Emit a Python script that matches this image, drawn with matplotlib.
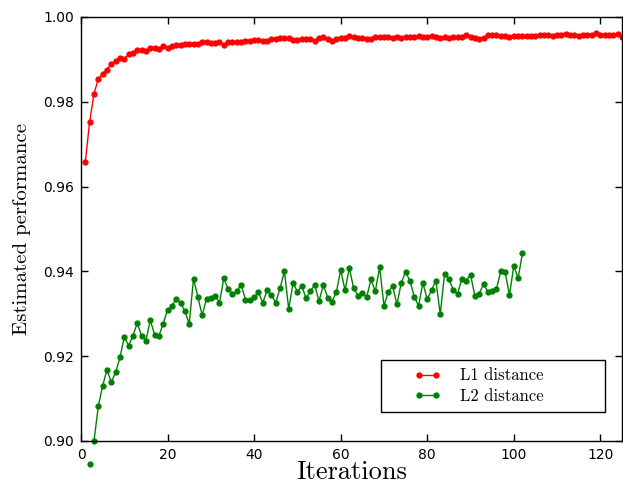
import numpy as np
import matplotlib.pyplot as plt
from matplotlib.legend_handler import HandlerLine2D

# L1 distance, iterations 1..125
l1_iter = np.arange(1, 126)
l1_perf = [
    0.9659, 0.9753, 0.9819, 0.9854, 0.9866, 0.9876, 0.9890, 0.9896, 0.9903, 0.9901,
    0.9912, 0.9916, 0.9921, 0.9922, 0.9920, 0.9926, 0.9928, 0.9925, 0.9931, 0.9928,
    0.9931, 0.9933, 0.9935, 0.9936, 0.9936, 0.9936, 0.9937, 0.9941, 0.9942, 0.9939,
    0.9939, 0.9940, 0.9935, 0.9941, 0.9941, 0.9941, 0.9941, 0.9944, 0.9944, 0.9946,
    0.9946, 0.9943, 0.9944, 0.9948, 0.9949, 0.9950, 0.9951, 0.9950, 0.9946, 0.9946,
    0.9949, 0.9949, 0.9948, 0.9943, 0.9951, 0.9952, 0.9947, 0.9943, 0.9948, 0.9950,
    0.9950, 0.9956, 0.9953, 0.9950, 0.9951, 0.9949, 0.9948, 0.9954, 0.9953, 0.9952,
    0.9952, 0.9950, 0.9953, 0.9950, 0.9954, 0.9953, 0.9952, 0.9956, 0.9952, 0.9954,
    0.9956, 0.9952, 0.9951, 0.9952, 0.9950, 0.9952, 0.9954, 0.9953, 0.9957, 0.9954,
    0.9951, 0.9948, 0.9951, 0.9957, 0.9957, 0.9957, 0.9956, 0.9955, 0.9953, 0.9956,
    0.9956, 0.9955, 0.9956, 0.9955, 0.9955, 0.9957, 0.9958, 0.9957, 0.9955, 0.9958,
    0.9957, 0.9960, 0.9957, 0.9957, 0.9956, 0.9957, 0.9957, 0.9957, 0.9962, 0.9958,
    0.9957, 0.9958, 0.9958, 0.9961, 0.9954,
]

# L2 distance, iterations 2..102
l2_iter = np.arange(2, 103)
l2_perf = [
    0.8946, 0.9000, 0.9082, 0.9130, 0.9168, 0.9139, 0.9162, 0.9197, 0.9245, 0.9225,
    0.9248, 0.9278, 0.9248, 0.9237, 0.9285, 0.9251, 0.9248, 0.9277, 0.9310, 0.9318,
    0.9335, 0.9326, 0.9306, 0.9276, 0.9383, 0.9340, 0.9296, 0.9336, 0.9338, 0.9343,
    0.9326, 0.9384, 0.9358, 0.9346, 0.9353, 0.9369, 0.9333, 0.9332, 0.9339, 0.9351,
    0.9326, 0.9355, 0.9344, 0.9326, 0.9361, 0.9400, 0.9311, 0.9373, 0.9352, 0.9366,
    0.9337, 0.9353, 0.9368, 0.9330, 0.9368, 0.9338, 0.9329, 0.9351, 0.9403, 0.9356,
    0.9408, 0.9360, 0.9343, 0.9349, 0.9339, 0.9381, 0.9353, 0.9410, 0.9319, 0.9351,
    0.9366, 0.9322, 0.9373, 0.9399, 0.9378, 0.9340, 0.9319, 0.9373, 0.9334, 0.9356,
    0.9378, 0.9299, 0.9394, 0.9382, 0.9357, 0.9347, 0.9383, 0.9378, 0.9392, 0.9343,
    0.9347, 0.9370, 0.9352, 0.9354, 0.9358, 0.9402, 0.9398, 0.9344, 0.9413, 0.9384,
    0.9443,
]

fig = plt.figure(figsize=(6.23, 4.83), dpi=100)
ax = fig.add_axes([81 / 623, 42 / 483, 541 / 623, 424 / 483])

# lines are clipped, markers are not (old matplotlib look)
ax.plot(l1_iter, l1_perf, '-', color='red', lw=1)
ax.plot(l1_iter, l1_perf, 'o', color='red', ms=3.5, mec='red', clip_on=False)
ax.plot(l2_iter, l2_perf, '-', color='green', lw=1)
ax.plot(l2_iter, l2_perf, 'o', color='green', ms=3.5, mec='green', clip_on=False)

ax.set_xlim(0, 125)
ax.set_ylim(0.90, 1.00)
ax.set_xticks(np.arange(0, 121, 20))
ax.set_yticks(np.arange(0.90, 1.001, 0.02))
ax.set_yticklabels(['%.2f' % v for v in np.arange(0.90, 1.001, 0.02)])
ax.tick_params(direction='in', top=True, right=True, length=5, width=1,
               labelsize=10, pad=5)
for s in ax.spines.values():
    s.set_linewidth(1)

ax.set_xlabel('Iterations', fontfamily='cmr10', fontsize=19, labelpad=-1)
ax.set_ylabel('Estimated performance', fontfamily='cmr10', fontsize=15, labelpad=9)

h1, = ax.plot([], [], '-o', color='red', ms=3.5, lw=1)
h2, = ax.plot([], [], '-o', color='green', ms=3.5, lw=1)
hl = HandlerLine2D(numpoints=2, xpad=1.5)
leg = ax.legend([h1, h2], ['L1 distance', 'L2 distance'],
                loc='lower left', mode='expand',
                bbox_to_anchor=(0.5545, 0.0684, 0.414, 0.13),
                prop={'family': 'cmr10', 'size': 12},
                handler_map={h1: hl, h2: hl},
                handlelength=3.1, handletextpad=1.15, borderpad=0.5,
                labelspacing=0.3, fancybox=False, framealpha=1,
                edgecolor='black', borderaxespad=0)
leg.get_frame().set_linewidth(1)

fig.savefig('out.png', dpi=100)
